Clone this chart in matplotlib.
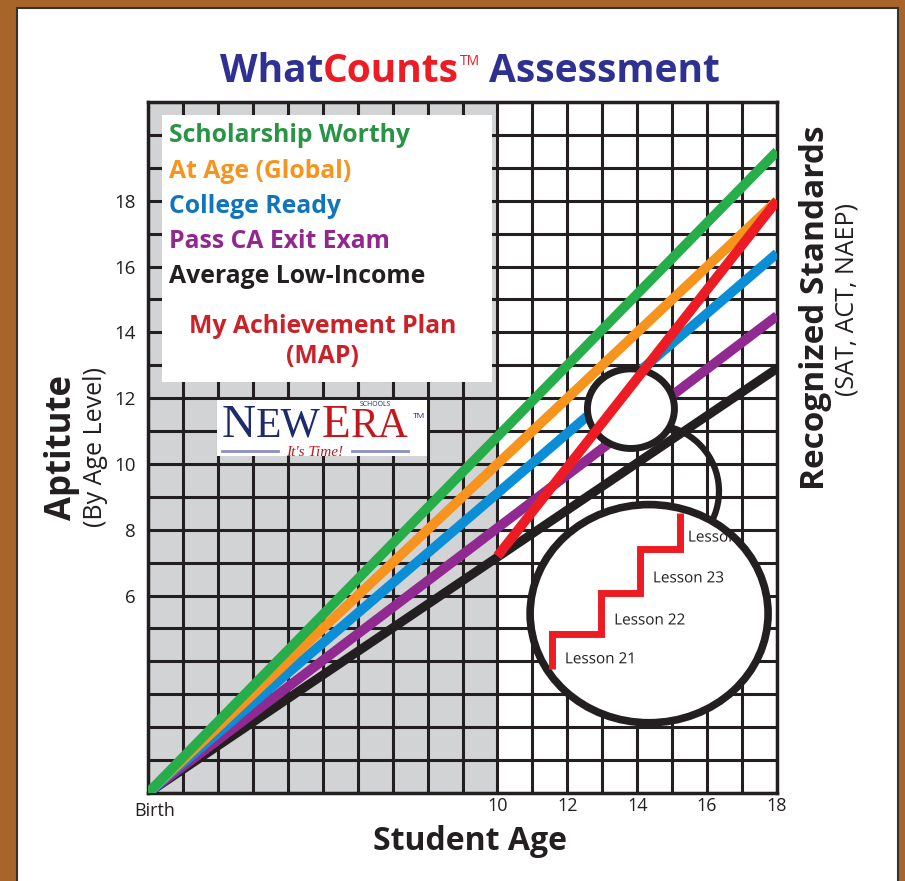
import numpy as np
import matplotlib
matplotlib.use("Agg")
import matplotlib.pyplot as plt
from matplotlib.patches import Rectangle, Ellipse, Arc, PathPatch
from matplotlib.textpath import TextPath
from matplotlib.font_manager import FontProperties
from matplotlib.transforms import offset_copy, Affine2D, ScaledTranslation

plt.rcParams["font.family"] = ["Open Sans", "DejaVu Sans"]

# ---- data ----
series = ["Scholarship Worthy", "At Age (Global)", "College Ready",
          "Pass CA Exit Exam", "Average Low-Income"]
line_colors = ["#27ae4a", "#f7941d", "#0b8ed6", "#902a90", "#231f20"]
text_colors = ["#2a9446", "#f7941d", "#1075bc", "#92278f", "#231f20"]
age_span = [0, 18]
level_at_18 = [19.5, 18.0, 16.4, 14.5, 12.9]
map_ages = [10, 18]
map_levels = [7.2, 18.0]
stair_x = [11.56, 12.97, 14.08, 15.23]
stair_y = [3.78, 4.84, 6.08, 7.41, 8.50]
lessons = ["Lesson 21", "Lesson 22", "Lesson 23", "Lesson 24"]
lesson_x = [11.93, 13.34, 14.45, 15.45]
lesson_y = [4.11, 5.29, 6.57, 7.81]
xticks = [10, 12, 14, 16, 18]
yticks = [6, 8, 10, 12, 14, 16, 18]

NAVY, RED, INK = "#2e3192", "#ed1c24", "#231f20"

fig = plt.figure(figsize=(9.05, 8.81), dpi=100)
fig.patch.set_facecolor("#a8652a")
fig.add_artist(Rectangle((17 / 905, -0.01), 881 / 905, 1 - 8 / 881 + 0.01,
                         transform=fig.transFigure, fc="white", ec="#333", lw=1.5, zorder=-1))

ax = fig.add_axes([148 / 905, 88 / 881, 629 / 905, 691 / 881])
ax.set_xlim(0, 18)
ax.set_ylim(0, 21)


def chain(target, x, y, parts, trans, center=True):
    """lay text pieces left to right (dx, dy in dots)."""
    rend = fig.canvas.get_renderer()
    items = []
    for s, dx, dy, kw in parts:
        t = target.text(x, y, s, transform=trans, va="baseline", ha="left", **kw)
        items.append((t, dx, dy, t.get_window_extent(rend).width))
    total = sum(dx + w for _, dx, _, w in items)
    off = -total / 2 if center else 0
    for t, dx, dy, w in items:
        off += dx
        t.set_transform(offset_copy(trans, fig=fig, x=off, y=dy, units="dots"))
        off += w


# grid + grey "before 10" zone
ax.axvspan(0, 10, color="#d1d3d4", zorder=0, lw=0)
for v in range(19):
    ax.axvline(v, color=INK, lw=2.2, zorder=1)
for v in range(22):
    ax.axhline(v, color=INK, lw=2.2, zorder=1)
for s in ax.spines.values():
    s.set_linewidth(2.5)
    s.set_color(INK)

ax.set_xticks(xticks)
ax.set_xticklabels([str(t) for t in xticks], fontsize=13, color=INK)
ax.set_yticks(yticks)
ax.set_yticklabels([str(t) for t in yticks], fontsize=13.5, color=INK)
ax.tick_params(length=0)
ax.tick_params(axis="x", pad=3)
ax.tick_params(axis="y", pad=9)
ax.text(0.2, -0.55, "Birth", ha="center", va="center", fontsize=13, color=INK)

# trajectories (black first, green on top)
for lvl, c in reversed(list(zip(level_at_18, line_colors))):
    ax.plot(age_span, [0, lvl], color=c, lw=7 if c != INK else 6.5,
            solid_capstyle="butt", zorder=4)

# circles
ax.add_patch(Arc((14.42, 9.17), 3.84, 4.05, theta1=-70, theta2=85,
                 color=INK, lw=4.5, zorder=4.5))
ax.add_patch(Ellipse((13.82, 11.68), 2.49, 2.42, fc="white", ec=INK, lw=5, zorder=5))
ax.plot(map_ages, map_levels, color=RED, lw=7, solid_capstyle="butt", zorder=6)
big = Ellipse((14.34, 5.45), 6.81, 6.63, fc="white", ec=INK, lw=5.5, zorder=6.5)
ax.add_patch(big)

# lesson staircase
ax.plot(np.repeat(stair_x, 2), np.repeat(stair_y, 2)[1:-1], color=RED, lw=5,
        solid_joinstyle="miter", solid_capstyle="butt", zorder=7)
# labels as text paths so the big circle can clip them (Agg won't clip plain text)
lesson_font = FontProperties(family="Open Sans", size=11)
for name, lx, ly in zip(lessons, lesson_x, lesson_y):
    tp = TextPath((0, -4), name, prop=lesson_font)
    tr = Affine2D().scale(fig.dpi / 72) + ScaledTranslation(lx, ly, ax.transData)
    ax.add_patch(PathPatch(tp, transform=tr, fc=INK, ec="none", zorder=7,
                           clip_path=big))

# legend panel
ax.add_patch(Rectangle((0.4, 12.5), 9.45, 8.1, fc="white", ec="none", zorder=3))
for i, (name, c) in enumerate(zip(series, text_colors)):
    ax.text(0.6, 19.97 - i * 1.07, name, color=c, fontsize=17.8, fontweight="bold",
            va="center", ha="left", zorder=3.5)
ax.text(5.0, 14.19, "My Achievement Plan", color="#cb2229", fontsize=17.8,
        fontweight="bold", ha="center", va="center", zorder=3.5)
ax.text(5.0, 13.28, "(MAP)", color="#cb2229", fontsize=17.8,
        fontweight="bold", ha="center", va="center", zorder=3.5)

# NewEra logo
ax.add_patch(Rectangle((1.97, 10.23), 6.02, 1.72, fc="white", ec="none", zorder=3))
serif = dict(family="Liberation Serif", zorder=3.5)
chain(ax, 2.12, 10.82, [
    ("N", 0, 0, dict(fontsize=34, color="#1d2a6c", **serif)),
    ("EW", 0, 0, dict(fontsize=30, color="#1d2a6c", **serif)),
    ("E", 1, 0, dict(fontsize=34, color="#c4161c", **serif)),
    ("RA", 0, 0, dict(fontsize=30, color="#c4161c", **serif)),
], ax.transData, center=False)
ax.text(6.5, 11.8, "SCHOOLS", fontsize=5, color="#1d2a6c", ha="center", va="center", zorder=3.5)
ax.text(7.75, 11.44, "TM", fontsize=6, color="#1d2a6c", ha="center", va="center", zorder=3.5)
ax.text(4.78, 10.34, "It's Time!", fontsize=11, color="#c4161c", style="italic",
        family="Liberation Serif", ha="center", va="center", zorder=3.5)
for x0, x1 in [(2.12, 3.72), (5.84, 7.44)]:
    ax.plot([x0, x1], [10.38, 10.38], color="#8a8fc0", lw=2, zorder=3.5)

# title
chain(fig, 470 / 905, 1 - 82 / 881, [
    ("What", 0, 0, dict(fontsize=28, fontweight="bold", color=NAVY)),
    ("Counts", 0, 0, dict(fontsize=28, fontweight="bold", color=RED)),
    ("TM", 1, 17, dict(fontsize=10, color=RED)),
    ("Assessment", 9, 0, dict(fontsize=28, fontweight="bold", color=NAVY)),
], fig.transFigure)

# axis titles
fig.text(470 / 905, 1 - 842 / 881, "Student Age", fontsize=23, fontweight="bold",
         color=INK, ha="center", va="center")
fig.text(62 / 905, 1 - 447 / 881, "Aptitute", fontsize=25, fontweight="bold",
         color=INK, ha="center", va="center", rotation=90)
fig.text(95 / 905, 1 - 447 / 881, "(By Age Level)", fontsize=18,
         color=INK, ha="center", va="center", rotation=90)
fig.text(815 / 905, 1 - 308 / 881, "Recognized Standards", fontsize=24, fontweight="bold",
         color=INK, ha="center", va="center", rotation=90)
fig.text(847 / 905, 1 - 300 / 881, "(SAT, ACT, NAEP)", fontsize=18,
         color=INK, ha="center", va="center", rotation=90)

fig.savefig("out.png", dpi=100, facecolor=fig.get_facecolor())
